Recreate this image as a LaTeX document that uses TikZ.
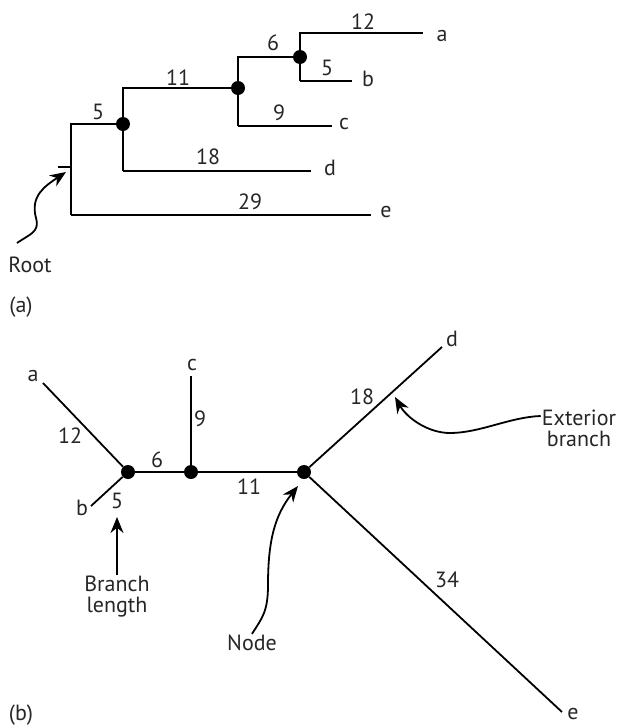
\documentclass[tikz,border=0pt]{standalone}
\usepackage{fontspec}
\setmainfont{PT Sans}
\usetikzlibrary{arrows.meta}
\begin{document}
\begin{tikzpicture}[x=1pt,y=-1pt,
  br/.style={line width=1.8pt},
  dot/.style={circle,fill=black,inner sep=0pt,minimum size=14pt},
  lbl/.style={font=\fontsize{22}{24}\selectfont,inner sep=1pt,text=black!85},
  callout/.style={line width=1.8pt,-{Stealth[length=16pt,width=13pt]}}]
\useasboundingbox (0,0) rectangle (617,726);
% ---------- (a) ----------
\coordinate (rt) at (71,124);
\coordinate (rb) at (71,215);
\coordinate (rk) at (71,167);
\coordinate (rk0) at (58,167);
\node[dot] (n1) at (123,124) {};
\node[dot] (n2) at (238,88) {};
\node[dot] (n3) at (300,57) {};
\coordinate (n1t) at (123,88);
\coordinate (n1b) at (123,171);
\coordinate (n2t) at (238,57);
\coordinate (n2b) at (238,126);
\coordinate (n3t) at (300,33);
\coordinate (n3b) at (300,81);
\coordinate (ea) at (423,33);
\coordinate (eb) at (352,81);
\coordinate (ec) at (332,126);
\coordinate (ed) at (311,171);
\coordinate (ee) at (371,215);
\draw[br] (rb) -- (rt) -- (n1);
\draw[br] (rk0) -- (rk);
\draw[br] (rb) -- (ee);
\draw[br] (n1b) -- (n1t) -- (n2);
\draw[br] (n1b) -- (ed);
\draw[br] (n2b) -- (n2t) -- (n3);
\draw[br] (n2b) -- (ec);
\draw[br] (n3b) -- (n3t) -- (ea);
\draw[br] (n3b) -- (eb);
\node[lbl] (la) at (442,36) {a};
\node[lbl] (lb) at (368,79) {b};
\node[lbl] (lc) at (344,124) {c};
\node[lbl] (ld) at (330,168) {d};
\node[lbl] (le) at (386,212) {e};
\node[lbl] (l12) at (363,22) {12};
\node[lbl] (l5b) at (327,68) {5};
\node[lbl] (l6) at (273,43) {6};
\node[lbl] (l11) at (178,78) {11};
\node[lbl] (l9) at (279,113) {9};
\node[lbl] (l5) at (98,112) {5};
\node[lbl] (l18) at (208,157) {18};
\node[lbl] (l29) at (250,202) {29};
\node[lbl] (root) at (30,265) {Root};
\node[lbl] (pa) at (21,307) {(a)};
\coordinate (rs) at (17,243);
\coordinate (rtip) at (66,172);
\draw[callout] (rs) .. controls (30,234) and (40,232) .. (36,218)
  .. controls (30,196) and (45,186) .. (rtip);
% ---------- (b) ----------
\node[dot] (A) at (128,472) {};
\node[dot] (B) at (191,472) {};
\node[dot] (C) at (304,472) {};
\coordinate (xa) at (43,383);
\coordinate (xb) at (91,506);
\coordinate (xc) at (191,376);
\coordinate (xd) at (442,347);
\coordinate (xe) at (562,712);
\draw[br] (xa) -- (A) -- (xb);
\draw[br] (A) -- (B) -- (C);
\draw[br] (B) -- (xc);
\draw[br] (xd) -- (C) -- (xe);
\node[lbl] (ba) at (33,376) {a};
\node[lbl] (bb) at (82,508) {b};
\node[lbl] (bc) at (192,365) {c};
\node[lbl] (bd) at (452,339) {d};
\node[lbl] (be) at (573,714) {e};
\node[lbl] (b12) at (70,436) {12};
\node[lbl] (b5) at (117,501) {5};
\node[lbl] (b6) at (157,460) {6};
\node[lbl] (b9) at (200,419) {9};
\node[lbl] (b11) at (249,487) {11};
\node[lbl] (b18) at (362,397) {18};
\node[lbl] (b34) at (447,580) {34};
\node[lbl,align=center] (ext) at (579,428) {Exterior\\[-3pt]branch};
\node[lbl,align=center] (blen) at (117,597) {Branch\\[-3pt]length};
\node[lbl] (nd) at (252,643) {Node};
\node[lbl] (pb) at (21,715) {(b)};
\draw[callout] (ext.west |- 0,416) .. controls (510,417) and (480,433) .. (450,433)
  .. controls (428,433) and (407,418) .. (395,397);
\draw[callout] (blen.north) -- (117,517);
\draw[callout] (nd.north) .. controls (262,618) and (268,612) .. (268,585)
  .. controls (268,540) and (275,515) .. (298,486);
\end{tikzpicture}
\end{document}
